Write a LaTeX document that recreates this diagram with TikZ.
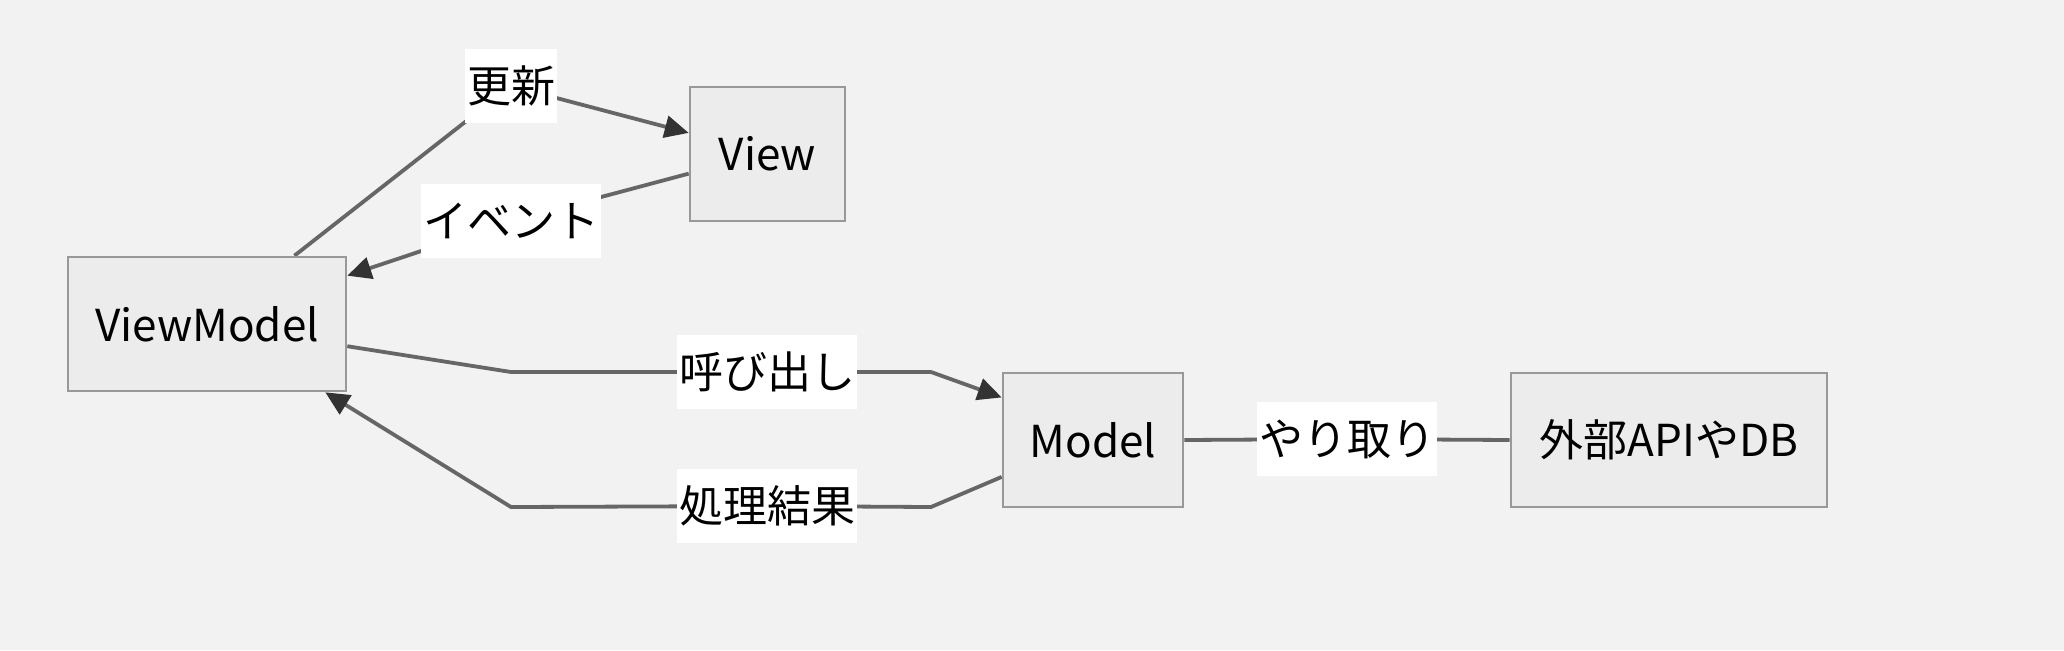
\documentclass[tikz,border=0pt]{standalone}
\usepackage{fontspec}
\setmainfont{Noto Sans CJK JP}
\usetikzlibrary{arrows.meta}

\definecolor{bgc}{HTML}{F2F2F2}
\definecolor{boxfill}{HTML}{ECECEC}
\definecolor{boxline}{HTML}{999999}
\definecolor{edgec}{HTML}{666666}
\definecolor{tipc}{HTML}{333333}

\pgfdeclarelayer{back}
\pgfdeclarelayer{edges}
\pgfsetlayers{back,edges,main}

\begin{document}
\begin{tikzpicture}[x=0.5pt,y=-0.5pt,
		>={Triangle[length=12pt,width=11pt,color=tipc]},
		every node/.style={font=\fontsize{22}{26}\selectfont},
		comp/.style={draw=boxline,fill=boxfill,line width=1.3pt,minimum height=67pt},
		lbl/.style={fill=white,inner xsep=1pt,inner ysep=0pt,minimum height=37pt},
		link/.style={draw=edgec,line width=1.9pt}]

	\begin{pgfonlayer}{back}
		\fill[bgc] (0,0) rectangle (2064,650);
	\end{pgfonlayer}
	\useasboundingbox (0,0) rectangle (2064,650);

	% boxes
	\node[comp, minimum width=139pt] (vm)    at (207,324)   {ViewModel};
	\node[comp, minimum width=77.5pt] (view) at (767.5,154) {View};
	\node[comp, minimum width=90pt] (model)  at (1093,440)  {Model};
	\node[comp, minimum width=158pt] (ext)   at (1669,440)  {外部APIやDB};

	% labels
	\node[lbl] (upd)   at (511,86)   {更新};
	\node[lbl] (evt)   at (511,221)  {イベント};
	\node[lbl] (call)  at (767,372)  {呼び出し};
	\node[lbl] (res)   at (767,506)  {処理結果};
	\node[lbl] (xchg)  at (1347,439) {やり取り};

	\begin{pgfonlayer}{edges}
		\draw[link,->] (vm.38) -- (upd.center) -- (view.165);
		\draw[link,->] (view.194) -- (evt.center) -- (vm.19);
		\draw[link,->] (vm.-9) -- (511,372) -- (call.center) -- (931,372) -- (model.155);
		\draw[link,->] (model.202) -- (931,507) -- (res.center) -- (511,507) -- (vm.-30);
		\draw[link] (model.east) -- (xchg.center) -- (ext.west);
	\end{pgfonlayer}

\end{tikzpicture}
\end{document}
